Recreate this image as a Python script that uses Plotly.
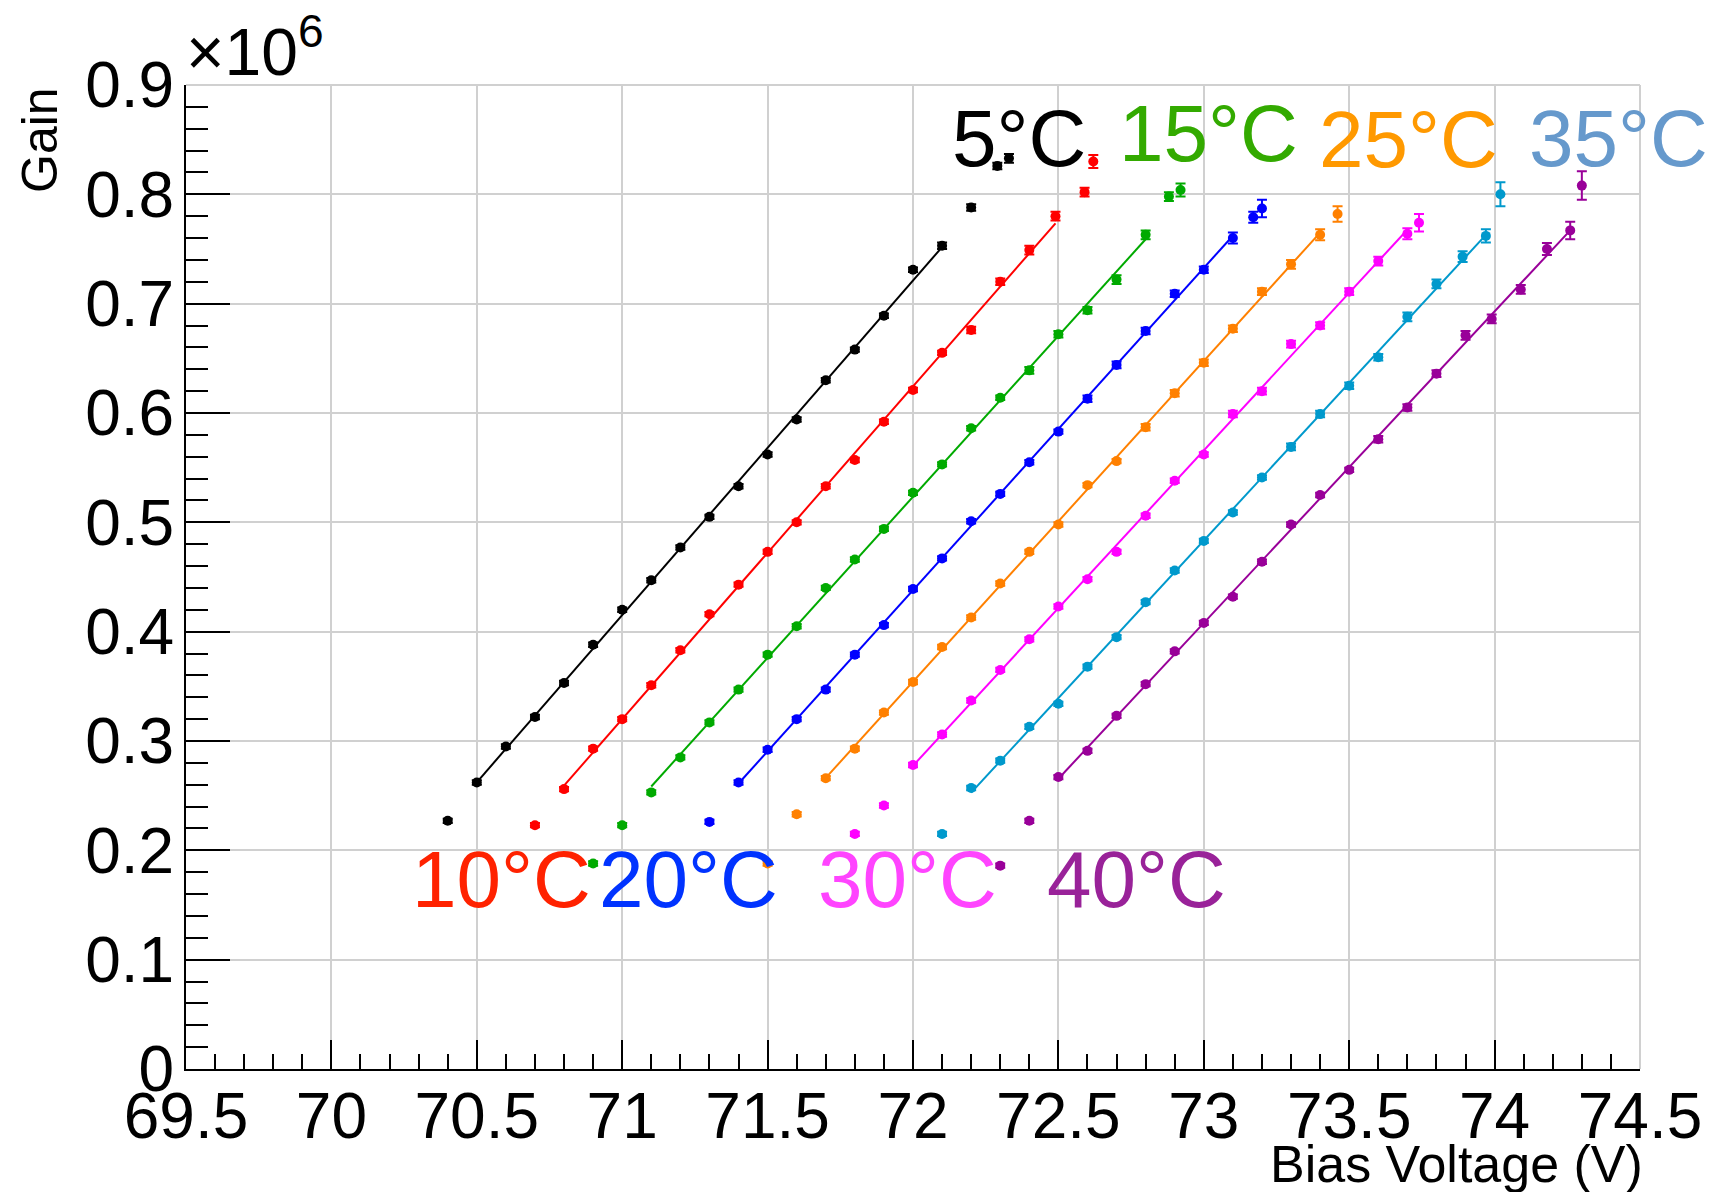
import numpy as np
import plotly.graph_objects as go

# ---------------- data ----------------
temps = ["5°C", "10°C", "15°C", "20°C", "25°C", "30°C", "35°C", "40°C"]

x_5 = [70.4, 70.5, 70.6, 70.7, 70.8, 70.9, 71.0, 71.1, 71.2, 71.3, 71.4, 71.5, 71.6, 71.7, 71.8, 71.9, 72.0, 72.1, 72.2, 72.29, 72.33]
y_5 = [0.227, 0.262, 0.295, 0.322, 0.353, 0.388, 0.420, 0.447, 0.477, 0.505, 0.533, 0.562, 0.594, 0.630, 0.658, 0.689, 0.731, 0.753, 0.788, 0.826, 0.833]
e_5 = [0.002, 0.002, 0.002, 0.002, 0.002, 0.002, 0.002, 0.002, 0.002, 0.002, 0.002, 0.002, 0.002, 0.002, 0.002, 0.002, 0.002, 0.003, 0.003, 0.003, 0.004]

x_10 = [70.7, 70.8, 70.9, 71.0, 71.1, 71.2, 71.3, 71.4, 71.5, 71.6, 71.7, 71.8, 71.9, 72.0, 72.1, 72.2, 72.3, 72.4, 72.49, 72.59, 72.62]
y_10 = [0.223, 0.256, 0.293, 0.320, 0.351, 0.383, 0.416, 0.443, 0.473, 0.500, 0.533, 0.557, 0.592, 0.621, 0.655, 0.676, 0.720, 0.749, 0.780, 0.802, 0.830]
e_10 = [0.002, 0.002, 0.002, 0.002, 0.002, 0.002, 0.002, 0.002, 0.002, 0.002, 0.002, 0.002, 0.002, 0.002, 0.002, 0.003, 0.003, 0.004, 0.004, 0.004, 0.006]

x_15 = [70.9, 71.0, 71.1, 71.2, 71.3, 71.4, 71.5, 71.6, 71.7, 71.8, 71.9, 72.0, 72.1, 72.2, 72.3, 72.4, 72.5, 72.6, 72.7, 72.8, 72.88, 72.92]
y_15 = [0.188, 0.223, 0.253, 0.285, 0.317, 0.347, 0.379, 0.405, 0.440, 0.466, 0.494, 0.527, 0.553, 0.586, 0.614, 0.639, 0.672, 0.694, 0.722, 0.763, 0.798, 0.804]
e_15 = [0.002, 0.002, 0.002, 0.002, 0.002, 0.002, 0.002, 0.002, 0.002, 0.002, 0.002, 0.002, 0.002, 0.002, 0.002, 0.003, 0.003, 0.003, 0.004, 0.004, 0.004, 0.006]

x_20 = [71.3, 71.4, 71.5, 71.6, 71.7, 71.8, 71.9, 72.0, 72.1, 72.2, 72.3, 72.4, 72.5, 72.6, 72.7, 72.8, 72.9, 73.0, 73.1, 73.17, 73.20]
y_20 = [0.226, 0.262, 0.292, 0.320, 0.347, 0.379, 0.406, 0.439, 0.467, 0.501, 0.526, 0.555, 0.583, 0.613, 0.644, 0.675, 0.709, 0.731, 0.760, 0.779, 0.787]
e_20 = [0.002, 0.002, 0.002, 0.002, 0.002, 0.002, 0.002, 0.002, 0.002, 0.002, 0.002, 0.002, 0.002, 0.003, 0.003, 0.003, 0.003, 0.003, 0.005, 0.005, 0.008]

x_25 = [71.5, 71.6, 71.7, 71.8, 71.9, 72.0, 72.1, 72.2, 72.3, 72.4, 72.5, 72.6, 72.7, 72.8, 72.9, 73.0, 73.1, 73.2, 73.3, 73.4, 73.46]
y_25 = [0.188, 0.233, 0.266, 0.293, 0.326, 0.354, 0.386, 0.413, 0.444, 0.473, 0.498, 0.534, 0.556, 0.587, 0.618, 0.646, 0.677, 0.711, 0.736, 0.763, 0.782]
e_25 = [0.002, 0.002, 0.002, 0.002, 0.002, 0.002, 0.002, 0.002, 0.002, 0.002, 0.002, 0.002, 0.002, 0.003, 0.003, 0.003, 0.003, 0.003, 0.004, 0.005, 0.007]

x_30 = [71.8, 71.9, 72.0, 72.1, 72.2, 72.3, 72.4, 72.5, 72.6, 72.7, 72.8, 72.9, 73.0, 73.1, 73.2, 73.3, 73.4, 73.5, 73.6, 73.7, 73.74]
y_30 = [0.215, 0.241, 0.278, 0.306, 0.337, 0.365, 0.393, 0.423, 0.448, 0.473, 0.506, 0.538, 0.562, 0.599, 0.620, 0.663, 0.680, 0.711, 0.739, 0.764, 0.774]
e_30 = [0.002, 0.002, 0.002, 0.002, 0.002, 0.002, 0.002, 0.002, 0.002, 0.002, 0.002, 0.002, 0.002, 0.003, 0.003, 0.003, 0.003, 0.003, 0.004, 0.005, 0.008]

x_35 = [72.1, 72.2, 72.3, 72.4, 72.5, 72.6, 72.7, 72.8, 72.9, 73.0, 73.1, 73.2, 73.3, 73.4, 73.5, 73.6, 73.7, 73.8, 73.89, 73.97, 74.02]
y_35 = [0.215, 0.257, 0.282, 0.313, 0.334, 0.368, 0.395, 0.427, 0.456, 0.483, 0.509, 0.541, 0.569, 0.599, 0.625, 0.651, 0.688, 0.718, 0.743, 0.762, 0.800]
e_35 = [0.002, 0.002, 0.002, 0.002, 0.002, 0.002, 0.002, 0.002, 0.002, 0.002, 0.002, 0.002, 0.003, 0.003, 0.003, 0.003, 0.004, 0.004, 0.005, 0.006, 0.011]

x_40 = [72.3, 72.4, 72.5, 72.6, 72.7, 72.8, 72.9, 73.0, 73.1, 73.2, 73.3, 73.4, 73.5, 73.6, 73.7, 73.8, 73.9, 73.99, 74.09, 74.18, 74.26, 74.30]
y_40 = [0.186, 0.227, 0.267, 0.291, 0.323, 0.352, 0.382, 0.408, 0.432, 0.464, 0.498, 0.525, 0.548, 0.576, 0.605, 0.636, 0.671, 0.686, 0.713, 0.750, 0.767, 0.808]
e_40 = [0.002, 0.002, 0.002, 0.002, 0.002, 0.002, 0.002, 0.002, 0.002, 0.002, 0.002, 0.002, 0.002, 0.003, 0.003, 0.003, 0.004, 0.004, 0.004, 0.0055, 0.008, 0.013]

# linear-fit ranges (V)
fit_lo = [70.5, 70.8, 71.1, 71.4, 71.7, 72.0, 72.2, 72.5]
fit_hi = [72.1, 72.49, 72.8, 73.1, 73.4, 73.7, 73.97, 74.26]

# ---------------- styles ----------------
point_colors = ["#000000", "#ff0000", "#00aa00", "#0000ff", "#ff8000", "#ff00ff", "#0099cc", "#990099"]
label_colors = ["#000000", "#ff2200", "#33aa00", "#0033ff", "#ff9900", "#ff44ff", "#6699cc", "#992299"]
FONT = "Liberation Sans, Arial, Helvetica, sans-serif"

xs_all = [x_5, x_10, x_15, x_20, x_25, x_30, x_35, x_40]
ys_all = [y_5, y_10, y_15, y_20, y_25, y_30, y_35, y_40]
es_all = [e_5, e_10, e_15, e_20, e_25, e_30, e_35, e_40]

fig = go.Figure()
for i in range(len(temps)):
    x = np.array(xs_all[i])
    y = np.array(ys_all[i])
    c = point_colors[i]
    fig.add_trace(go.Scatter(
        x=x, y=y, mode="markers", showlegend=False, name=temps[i],
        marker=dict(color=c, size=10, line=dict(width=0)),
        error_y=dict(type="data", array=es_all[i], color=c, thickness=2, width=5),
    ))
    m = (x >= fit_lo[i] - 1e-9) & (x <= fit_hi[i] + 1e-9)
    p = np.polyfit(x[m], y[m], 1)
    xx = np.array([fit_lo[i], fit_hi[i]])
    fig.add_trace(go.Scatter(
        x=xx, y=np.polyval(p, xx), mode="lines", showlegend=False,
        line=dict(color=c, width=2), hoverinfo="skip",
    ))

# temperature labels
label_pos = [(72.127, 0.851), (70.27, 0.173), (72.700, 0.856), (70.915, 0.173),
             (73.39, 0.850), (71.668, 0.173), (74.11, 0.851), (72.455, 0.173)]
for i, t in enumerate(temps):
    fig.add_annotation(x=label_pos[i][0], y=label_pos[i][1], xref="x", yref="y",
                       text=t, showarrow=False, xanchor="left", yanchor="middle",
                       font=dict(family=FONT, size=80, color=label_colors[i]))

# exponent
fig.add_annotation(x=0, y=1, xref="paper", yref="paper", xanchor="left", yanchor="bottom",
                   text="×10<sup>6</sup>", showarrow=False, xshift=-2, yshift=-6,
                   font=dict(family=FONT, size=66, color="black"))
# axis titles
fig.add_annotation(x=0, y=1, xref="paper", yref="paper", xanchor="center", yanchor="top",
                   text="Gain", textangle=-90, showarrow=False, xshift=-146,
                   font=dict(family=FONT, size=50, color="black"))
fig.add_annotation(x=1, y=0, xref="paper", yref="paper", xanchor="right", yanchor="top",
                   text="Bias Voltage (V)", showarrow=False, xshift=5, yshift=-64,
                   font=dict(family=FONT, size=52, color="black"))

grid_c = "#d0d0d0"
fig.update_layout(
    width=1717, height=1192,
    margin=dict(l=186, r=77, t=85, b=123),
    paper_bgcolor="white", plot_bgcolor="white",
    font=dict(family=FONT, color="black"),
    xaxis=dict(range=[69.5, 74.5], dtick=0.5, tick0=69.5, ticks="inside", ticklen=29, tickwidth=2,
               tickcolor="black", showline=True, linecolor="black", linewidth=2,
               showgrid=True, gridcolor=grid_c, gridwidth=2, zeroline=False,
               ticklabelstandoff=-10,
               tickfont=dict(family=FONT, size=64, color="black"),
               minor=dict(dtick=0.1, ticks="inside", ticklen=15, tickwidth=2, tickcolor="black", showgrid=False)),
    yaxis=dict(range=[0, 0.9], dtick=0.1, tick0=0, ticks="inside", ticklen=44, tickwidth=2,
               tickcolor="black", showline=True, linecolor="black", linewidth=2,
               showgrid=True, gridcolor=grid_c, gridwidth=2, zeroline=False,
               ticklabelstandoff=-3,
               tickfont=dict(family=FONT, size=64, color="black"),
               minor=dict(dtick=0.02, ticks="inside", ticklen=22, tickwidth=2, tickcolor="black", showgrid=False)),
)
# top and right frame (grey like the grid)
fig.add_shape(type="line", xref="paper", yref="paper", x0=0, x1=1, y0=1, y1=1,
              line=dict(color=grid_c, width=2), layer="below")
fig.add_shape(type="line", xref="paper", yref="paper", x0=1, x1=1, y0=0, y1=1,
              line=dict(color=grid_c, width=2), layer="below")

fig.write_html("out.html")
